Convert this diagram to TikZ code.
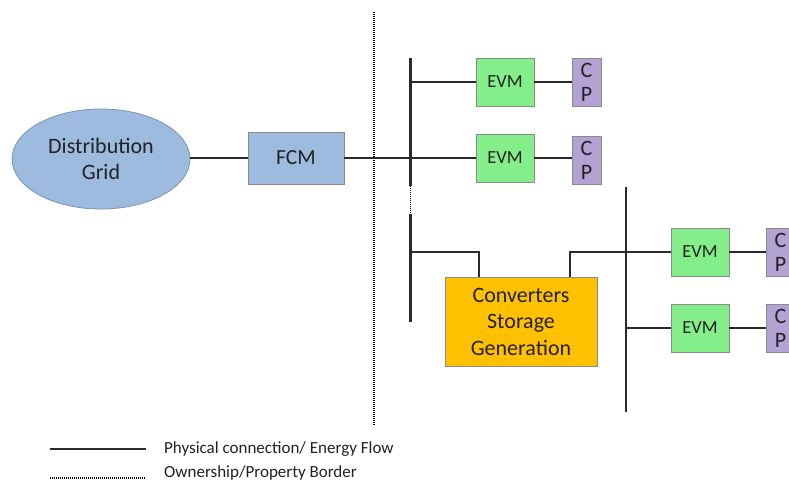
\documentclass[tikz,border=0pt]{standalone}
\usepackage{fontspec}
\setmainfont{Carlito}
\usetikzlibrary{shapes.geometric}
\definecolor{gridblue}{HTML}{9DBADF}
\definecolor{evmgreen}{HTML}{84EE8A}
\definecolor{cpviolet}{HTML}{B4A2D4}
\definecolor{convorange}{HTML}{FFC000}
\definecolor{edgegrey}{HTML}{8A8A8A}
\definecolor{wire}{HTML}{2A2A2A}
\definecolor{txt}{HTML}{222222}
\tikzset{
  box/.style={draw=edgegrey, line width=0.8pt, inner sep=0pt, align=center, text=txt},
  evmbox/.style={box, fill=evmgreen, minimum width=58pt, minimum height=48pt, font=\fontsize{18.5}{20}\selectfont},
  cpbox/.style={box, fill=cpviolet, minimum width=29pt, minimum height=48pt, font=\fontsize{22}{24}\selectfont},
  conn/.style={draw=wire, line width=2.6pt},
  border/.style={draw=black, line width=1.8pt, dash pattern=on 1pt off 1pt},
}
\begin{document}
\begin{tikzpicture}[x=1pt,y=-1pt]
\useasboundingbox (0,0) rectangle (789,483);
\fill[white] (0,0) rectangle (789,483);
\clip (0,0) rectangle (789,483);

% ownership border
\coordinate (bt) at (374,12);
\coordinate (bb) at (374,425);
\draw[border] (bt) -- (bb);

% nodes
\node[box, ellipse, fill=gridblue, draw=gridblue!80!black, minimum width=178pt, minimum height=100pt, font=\fontsize{22}{26}\selectfont] (grid) at (101,159) {Distribution\\Grid};
\node[box, fill=gridblue, minimum width=96pt, minimum height=52pt, font=\fontsize{21.5}{24}\selectfont] (fcm) at (296,158) {FCM};

\node[evmbox] (evm1) at (505,82) {EVM};
\node[cpbox] (cp1) at (586.5,82) {C\\P};
\node[evmbox] (evm2) at (505,158) {EVM};
\node[cpbox] (cp2) at (586.5,160) {C\\P};

\node[box, fill=convorange, minimum width=152pt, minimum height=89pt, font=\fontsize{22}{26.5}\selectfont] (conv) at (521,321.5) {Converters\\Storage\\Generation};

\node[evmbox] (evm3) at (700,252) {EVM};
\node[cpbox] (cp3) at (780.5,252) {C\\P};
\node[evmbox] (evm4) at (700,328) {EVM};
\node[cpbox] (cp4) at (780.5,328) {C\\P};

% bus 1
\coordinate (b1top) at (410.5,58);
\coordinate (b1mid) at (410.5,186);
\coordinate (b1dot) at (410.5,214);
\coordinate (b1low) at (410.5,322);
\draw[conn] (b1top) -- (b1mid);
\draw[border] (b1mid) -- (b1dot);
\draw[conn] (b1dot) -- (b1low);

% bus 2
\coordinate (b2top) at (626,187);
\coordinate (b2bot) at (626,412);
\draw[conn] (b2top) -- (b2bot);

% connections
\draw[conn] (fcm.west -| grid.east) -- (fcm.west);
\draw[conn] (fcm.east) -- (evm2.west);
\draw[conn] (b1top |- evm1.west) -- (evm1.west);
\draw[conn] (evm1) -- (cp1);
\draw[conn] (evm2.east) -- (evm2.east -| cp2.west);
\coordinate (b1br) at (410.5,252);
\draw[conn] (b1br) -- (479,252) -- (479,277);
\draw[conn] (570,277) -- (570,252) -- (evm3.west);
\draw[conn] (evm3) -- (cp3);
\draw[conn] (b2top |- evm4.west) -- (evm4.west);
\draw[conn] (evm4) -- (cp4);

% legend
\coordinate (l1a) at (50,449);
\coordinate (l1b) at (146,449);
\coordinate (l2a) at (50,478);
\coordinate (l2b) at (146,478);
\draw[conn] (l1a) -- (l1b);
\draw[border, line width=2.2pt] (l2a) -- (l2b);
\node[anchor=west, inner sep=0pt, text=txt, font=\fontsize{17}{19}\selectfont] (t1) at (164,449) {Physical connection/ Energy Flow};
\node[anchor=west, inner sep=0pt, text=txt, font=\fontsize{17}{19}\selectfont] (t2) at (164,473) {Ownership/Property Border};
\end{tikzpicture}
\end{document}
